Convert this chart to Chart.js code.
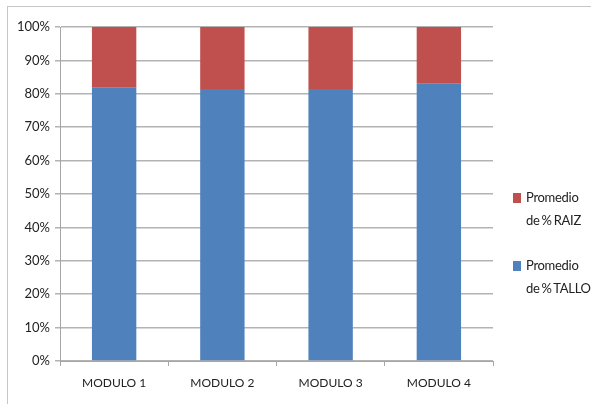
<!DOCTYPE html>
<html>
<head>
<meta charset="utf-8">
<script src="https://cdn.jsdelivr.net/npm/chart.js@4"></script>
<style>
  html, body { margin: 0; padding: 0; background: #fff; overflow: hidden; }
  #wrap { position: relative; width: 591px; height: 404px; }
  #frame { position: absolute; left: 7px; top: 6px; width: 640px; height: 440px; border: 1px solid #c6c6c6; }
  #myChart { position: absolute; left: 0; top: 0; }
  .leg { position: absolute; left: 513px; font: 13px Lato, "DejaVu Sans Condensed", sans-serif; color: #222; line-height: 23px; white-space: nowrap; word-spacing: -1px; letter-spacing: -0.3px; }
  .leg i { position: absolute; left: 0; top: 7px; width: 8px; height: 10px; }
  .leg span { display: block; padding-left: 13px; }
</style>
</head>
<body>
<div id="wrap">
  <div id="frame"></div>
  <canvas id="myChart" width="591" height="404"></canvas>
  <div id="legend"></div>
</div>
<script>
// data
var modulos = ["MODULO 1", "MODULO 2", "MODULO 3", "MODULO 4"];
var talloPct = [81.8, 81.4, 81.4, 83.0];
var raizPct = [18.2, 18.6, 18.6, 17.0];
var yTicks = [0, 10, 20, 30, 40, 50, 60, 70, 80, 90, 100];

var fontName = 'Lato, "DejaVu Sans Condensed", sans-serif';

var datasets = [
  { label: "Promedio de % TALLO", data: talloPct, backgroundColor: "#4f81bd" },
  { label: "Promedio de % RAIZ", data: raizPct, backgroundColor: "#c0504d" }
];

// html legend, RAIZ on top like the original
var legendTop = [186, 254];
var legendDiv = document.getElementById("legend");
datasets.slice().reverse().forEach(function (ds, i) {
  var parts = ds.label.split(" de ");
  var item = document.createElement("div");
  item.className = "leg";
  item.style.top = legendTop[i] + "px";
  item.innerHTML = '<i style="background:' + ds.backgroundColor + '"></i><span>' + parts[0] + '</span><span>de ' + parts[1] + '</span>';
  legendDiv.appendChild(item);
});

var ctx = document.getElementById("myChart").getContext("2d");
var chart = new Chart(ctx, {
  type: "bar",
  data: {
    labels: modulos,
    datasets: datasets.map(function (d) {
      return {
        label: d.label,
        data: d.data,
        backgroundColor: d.backgroundColor,
        barPercentage: 0.41,
        categoryPercentage: 1.0
      };
    })
  },
  options: {
    responsive: false,
    animation: false,
    layout: { padding: { top: 27, right: 98, left: 0, bottom: 0 } },
    plugins: { legend: { display: false }, tooltip: { enabled: false } },
    scales: {
      x: {
        stacked: true,
        grid: { display: true, drawOnChartArea: false, offset: true, color: "#a6a6a6", tickLength: 5 },
        border: { color: "#a6a6a6" },
        ticks: { color: "#222", padding: 10, font: { family: fontName, size: 12 } },
        afterFit: function (s) { s.height = 43; }
      },
      y: {
        stacked: true,
        min: 0,
        max: 100,
        afterBuildTicks: function (s) { s.ticks = yTicks.map(function (v) { return { value: v }; }); },
        grid: { color: "#b3b3b3", lineWidth: 1.5, tickLength: 5 },
        border: { color: "#a6a6a6" },
        ticks: {
          color: "#222",
          padding: 5,
          font: { family: fontName, size: 13 },
          callback: function (v) { return v + "%"; }
        },
        afterFit: function (s) { s.width = 60; }
      }
    }
  }
});
</script>
</body>
</html>
